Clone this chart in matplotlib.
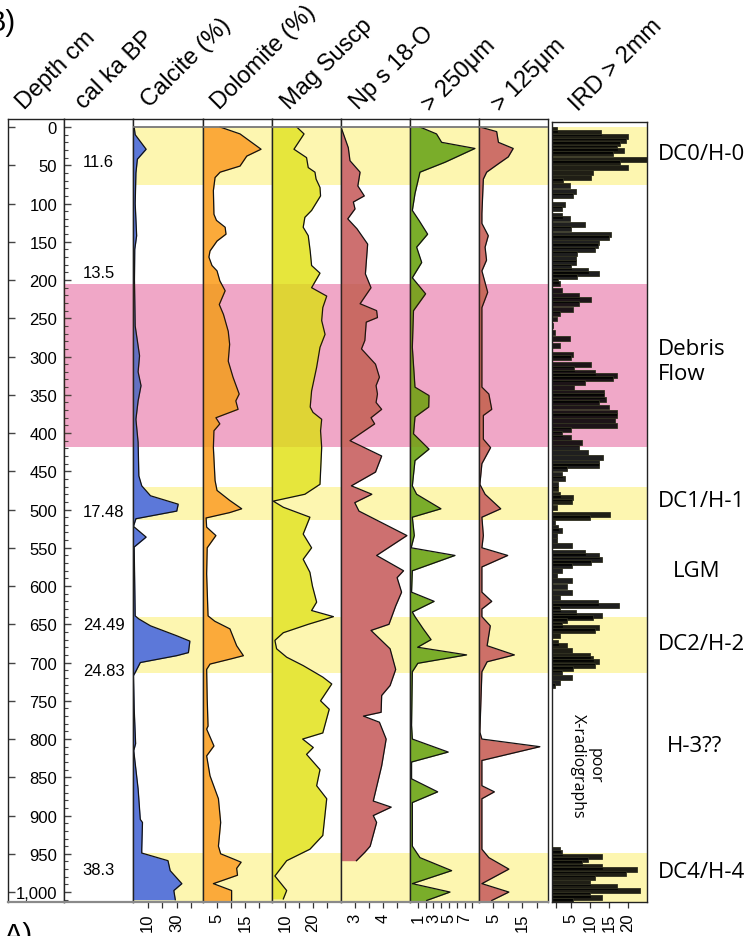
import matplotlib
matplotlib.use('Agg')
import matplotlib.pyplot as plt

W, H = 748, 937
DPI = 100
fig = plt.figure(figsize=(W / DPI, H / DPI), dpi=DPI)
fig.patch.set_facecolor('white')

SANS = ['Liberation Sans', 'DejaVu Sans']
LABF = ['Open Sans', 'DejaVu Sans']

# ---------------- data ----------------
depth_ticks = list(range(0, 1001, 50))
depth_labels = [f"{d:,}" for d in depth_ticks]

age_labels = ['11.6', '13.5', '17.48', '24.49', '24.83', '38.3']
age_depths = [45, 190, 503, 650, 711, 970]

calc_depth = [0, 10, 29, 42, 60, 100, 142, 160, 200, 260, 299, 320, 338, 358, 382, 412, 456, 469, 482, 493,
              502, 512, 522, 536, 549, 600, 639, 643, 652, 665, 672, 687, 691, 700, 713, 717, 760, 806, 815, 865,
              905, 909, 944, 949, 959, 972, 989, 998, 1010]
calc_val = [0.8, 1.5, 9, 3, 2, 1.5, 2.5, 1.2, 1, 1.5, 4.5, 3.5, 5.5, 3.5, 2, 3.5, 4, 6, 12, 31,
            30, 2, 0.3, 9, 0.8, 1.2, 1.5, 4, 12, 30, 39, 38, 30, 5, 1.5, 0.3, 0.8, 1.8, 0.5, 3.5,
            5, 6.5, 6, 6, 24, 25.5, 33.5, 28, 29]

dol_depth = [0, 9, 29, 38, 51, 59, 66, 83, 114, 122, 131, 140, 149, 162, 170, 181, 188, 201, 214, 232,
             245, 267, 284, 306, 327, 349, 358, 369, 380, 388, 397, 419, 462, 475, 488, 499, 504, 511, 523, 534,
             550, 584, 639, 646, 656, 678, 691, 695, 702, 709, 748, 783, 787, 809, 822, 848, 878, 909, 940, 950,
             957, 961, 969, 978, 989, 998, 1011]
dol_val = [6.1, 13.2, 20.7, 15.6, 13.2, 6.1, 4.3, 3.7, 3.9, 4.8, 7.9, 8.2, 5, 2.5, 2.1, 3.2, 5, 6, 7.9, 5.8,
           7.3, 9, 9.5, 9, 10.7, 12.9, 11.7, 12.5, 4.6, 6, 3.9, 3.7, 4.3, 5, 9.5, 13.8, 9.5, 1.1, 1.3, 4.6,
           1.5, 1.3, 1.8, 4.2, 9.6, 12, 14.4, 10.2, 2.5, 1.3, 1.5, 1.8, 1.3, 3.9, 1.3, 2.5, 5.5, 6.3, 5.5, 6.3,
           11, 13.6, 12, 12.3, 3.7, 10.2, 10.2]

mag_depth = [0, 9, 29, 40, 53, 59, 68, 79, 90, 109, 118, 131, 142, 162, 181, 191, 210, 221, 236, 253,
             271, 288, 314, 345, 366, 373, 382, 397, 419, 467, 480, 489, 497, 510, 532, 550, 565, 582, 600, 621,
             632, 640, 650, 661, 671, 682, 693, 704, 719, 728, 750, 761, 792, 800, 811, 820, 840, 861, 878, 926,
             944, 959, 979, 998, 1009]
mag_val = [14.2, 16.8, 13.2, 17.7, 18.3, 20.7, 21.1, 22.5, 22.7, 19.5, 17.1, 16.5, 18.3, 19, 19.5, 22.5, 19.5, 24.9, 23.5, 23.1,
           24.3, 22.5, 21.3, 19.5, 19, 20, 23.1, 22.7, 23.1, 22.5, 17.1, 5.8, 9.4, 18.9, 16.5, 19.5, 16.5, 18.9, 19.8, 21.3,
           19.5, 27.3, 18.3, 9.4, 6.4, 7, 10.6, 16.5, 23.5, 26.7, 22.7, 25.8, 23.5, 16.3, 20.1, 17.7, 22.5, 21.3, 24.9, 23.5,
           18.9, 10.6, 6.4, 10.6, 9.4]

np_depth = [0, 27, 44, 59, 77, 90, 98, 107, 120, 133, 153, 192, 210, 231, 240, 249, 255, 279, 290, 310,
            327, 338, 349, 360, 369, 380, 388, 410, 430, 451, 469, 480, 491, 502, 534, 560, 580, 589, 608, 626,
            650, 658, 682, 709, 730, 743, 765, 770, 778, 800, 835, 881, 889, 900, 909, 940, 948, 959]
np_val = [2.5, 2.76, 2.82, 3.18, 3.1, 3.33, 2.94, 3.0, 2.74, 3.07, 3.45, 3.37, 3.57, 3.18, 3.77, 3.8, 3.4, 3.35, 3.23, 3.73,
          3.87, 3.75, 3.8, 3.75, 3.95, 3.57, 3.7, 2.82, 3.95, 3.73, 2.87, 3.6, 2.99, 3.14, 4.85, 3.77, 4.73, 4.5, 4.66, 4.45,
          4.21, 3.57, 4.25, 4.45, 4.25, 3.95, 3.93, 3.3, 3.87, 4.11, 3.95, 3.65, 4.29, 3.65, 3.77, 3.54, 3.35, 3.05]

c250_depth = [0, 9, 20, 28, 46, 59, 87, 109, 122, 140, 157, 177, 197, 218, 240, 288, 340, 351, 366, 379,
              401, 421, 436, 469, 480, 499, 510, 534, 550, 560, 580, 608, 620, 634, 640, 656, 670, 680, 690, 701,
              712, 782, 800, 817, 830, 852, 869, 883, 940, 955, 972, 989, 1000, 1011]
c250_val = [1.28, 3.4, 4.06, 8.33, 4.5, 1.28, 0.64, 0.3, 1.15, 2.26, 0.85, 1.5, 0.3, 2.0, 0.45, 0.3, 0.64, 2.44, 2.4, 0.64,
            0.45, 2.44, 0.64, 0.3, 0.85, 3.97, 0.3, 0.55, 0.15, 5.77, 0.3, 0.2, 3.1, 0.3, 0.64, 1.7, 2.7, 0.98, 7.26, 1.0,
            0.3, 0.2, 0.3, 4.9, 0.2, 0.2, 3.55, 0.3, 0.3, 1.28, 5.34, 0.3, 5.13, 2.14]

c125_depth = [0, 6, 20, 28, 39, 48, 59, 68, 113, 126, 142, 157, 174, 188, 216, 236, 340, 349, 369, 377,
              408, 419, 440, 467, 480, 499, 510, 534, 550, 560, 575, 608, 620, 630, 640, 652, 678, 690, 699, 712,
              791, 800, 810, 828, 861, 869, 878, 944, 955, 970, 989, 1000, 1011]
c125_val = [0.34, 6.1, 6.7, 11.8, 10.1, 6.7, 2.64, 1.5, 1.0, 1.0, 3.2, 2.1, 2.6, 1.0, 3.0, 1.0, 1.0, 3.4, 4.4, 1.5,
            1.5, 4.0, 1.0, 0.3, 2.1, 7.5, 1.0, 1.5, 1.0, 9.9, 1.0, 1.0, 4.4, 1.0, 1.0, 3.9, 2.8, 12.2, 2.8, 1.0,
            0.3, 1.0, 21, 1.0, 1.0, 5.3, 1.0, 1.0, 3.4, 10.3, 1.0, 10.3, 4.4]

ird_depth = [3, 7, 13, 18, 22, 27, 31, 35, 42, 46, 53, 59, 66, 70, 77, 84, 90, 101, 107, 116,
             120, 127, 133, 140, 144, 151, 155, 160, 166, 172, 177, 183, 188, 192, 196, 201, 205, 214, 220, 225,
             231, 238, 244, 251, 260, 268, 277, 286, 297, 301, 310, 316, 321, 325, 329, 334, 340, 347, 351, 356,
             360, 366, 373, 377, 384, 390, 395, 401, 406, 412, 419, 425, 432, 438, 443, 447, 454, 460, 467, 473,
             480, 484, 490, 497, 506, 510, 517, 523, 528, 534, 541, 547, 556, 560, 565, 569, 573, 580, 586, 593,
             600, 608, 615, 621, 625, 630, 634, 639, 641, 645, 650, 654, 658, 665, 674, 678, 684, 691, 695, 699,
             704, 708, 713, 719, 726, 730, 944, 948, 953, 957, 961, 966, 970, 976, 981, 987, 993, 998, 1003, 1007,
             1011]
ird_val = [1.2, 13, 20, 19.6, 17.8, 17, 19, 16, 25, 17.8, 20, 10.7, 10.3, 3, 4.7, 6.4, 5.5, 3.5, 2.6, 2.6,
           4.7, 8.6, 5, 15.4, 15, 12.3, 12, 11.4, 6.6, 6.2, 6.2, 5, 9.4, 12.3, 6.6, 1.6, 2, 2.6, 7, 10.3,
           7, 5.5, 2, 1.2, 0.3, 0.7, 4.7, 2, 5.5, 5, 10.3, 5.8, 11.4, 17, 16, 8.6, 5.8, 13.8, 13.8, 14.2,
           12.3, 15, 17, 17, 16.6, 17, 5, 2.6, 5, 7.9, 7, 9.4, 13.3, 12.3, 12.3, 4, 2.6, 3.5, 1.6, 1.6,
           2, 5.5, 5.2, 1.2, 15.3, 10, 0.8, 1.6, 2.6, 1.2, 1.2, 5.2, 8.6, 12.3, 13.2, 10.3, 5.2, 2.6, 1.2, 5.2,
           4, 5.2, 2, 12, 17.5, 2, 6.4, 13.2, 10.7, 4, 2.6, 12.3, 11.4, 2, 1.6, 4, 5.2, 10, 10.7, 12.3,
           11.4, 5.5, 2.6, 5.2, 2, 0.8, 2, 2.6, 13.2, 9.4, 7.9, 13.2, 22.3, 19.6, 11.4, 10, 17, 23.2, 10, 13.2,
           5.5]

yellow_bands = [(0, 76), (470, 514), (640, 714), (949, 1013)]
pink_band = (205, 418)

headers = ['Depth cm', 'cal ka BP', 'Calcite (%)', 'Dolomite (%)', 'Mag Suscp', 'Np s 18-O',
           '> 250μm', '> 125μm', 'IRD > 2mm']
zone_labels = ['DC0/H-0', 'Debris\nFlow', 'DC1/H-1', 'LGM', 'DC2/H-2', 'H-3??', 'DC4/H-4']

# ---------------- styling ----------------
YEL = '#fdf6b0'
PINK_BASE = '#f8b4de'
PINK_OVER = '#aa3c00'
PINK_FINAL = '#f0a8c8'
D_TOP, D_BOT = -10.5, 1013


def px_ax(x0, x1, y0=120, y1=903):
    return fig.add_axes([x0 / W, 1 - y1 / H, (x1 - x0) / W, (y1 - y0) / H])


def ftext(x, y, s, **kw):
    return fig.text(x / W, 1 - y / H, s, **kw)


def style_spines(ax, bottom_color='#8a8a8a'):
    for s in ['top', 'left', 'right']:
        ax.spines[s].set_color('#222222')
        ax.spines[s].set_linewidth(1.0)
    ax.spines['bottom'].set_color(bottom_color)
    ax.spines['bottom'].set_linewidth(1.6)


# depth axis
axd = px_ax(8, 64)
axd.set_ylim(D_BOT, D_TOP)
axd.set_xlim(0, 1)
axd.set_xticks([])
axd.set_yticks(depth_ticks)
axd.set_yticklabels(depth_labels, fontsize=12, family=SANS)
axd.tick_params(axis='y', direction='in', length=5, width=1, pad=-35.3, color='#444444')
style_spines(axd)

# cal ka BP axis
axc = px_ax(64, 133)
axc.set_ylim(D_BOT, D_TOP)
axc.set_xlim(0, 1)
axc.set_xticks([])
axc.set_yticks(depth_ticks)
axc.set_yticks(list(range(0, 1011, 10)), minor=True)
axc.tick_params(axis='y', which='major', direction='in', length=5, width=1, labelleft=False, color='#444444')
axc.tick_params(axis='y', which='minor', direction='in', length=3, width=0.8, color='#444444')
axc.axhspan(*pink_band, color=PINK_BASE, lw=0, zorder=0)
axc.axhspan(*pink_band, color=PINK_OVER, alpha=0.1, lw=0, zorder=3)
for lab, d in zip(age_labels, age_depths):
    axc.text(0.27, d, lab, fontsize=12, family=SANS, ha='left', va='center', transform=axc.get_yaxis_transform())
style_spines(axc)

panels = [
    (133, 203, (0, 48), calc_depth, calc_val, '#5c78d9', 0, [10, 20, 30, 40], ['10', '', '30', '']),
    (203, 272, (0, 24.6), dol_depth, dol_val, '#fbaa3a', 0, [5, 10, 15, 20], ['5', '', '15', '']),
    (272, 341, (5.36, 30), mag_depth, mag_val, '#e6e63c', 5.36, [10, 15, 20, 25], ['10', '', '20', '']),
    (341, 410, (2.5, 4.96), np_depth, np_val, '#cd7070', 2.5, [3, 3.5, 4, 4.5], ['3', '', '4', '']),
    (410, 479, (0, 8.85), c250_depth, c250_val, '#7aad2a', 0, [1, 2, 3, 4, 5, 6, 7, 8],
     ['1', '', '3', '', '5', '', '7', '']),
    (479, 548, (0, 23.8), c125_depth, c125_val, '#cd7068', 0, [5, 10, 15, 20], ['5', '', '15', '']),
]

for x0, x1, xl, dep, val, col, base, ticks, tlabs in panels:
    ax = px_ax(x0, x1)
    ax.set_ylim(D_BOT, D_TOP)
    ax.set_xlim(*xl)
    for a, b in yellow_bands:
        ax.axhspan(a, b, color=YEL, lw=0, zorder=0)
    ax.axhspan(*pink_band, color=PINK_BASE, lw=0, zorder=0)
    ax.fill_betweenx(dep, base, val, color=col, lw=0, zorder=1)
    ax.plot(val, dep, color='#111111', lw=0.9, zorder=2)
    ax.axhspan(*pink_band, color=PINK_OVER, alpha=0.1, lw=0, zorder=3)
    ax.axhline(0, color='#777777', lw=1.3, zorder=4)
    ax.set_yticks([])
    ax.set_xticks(ticks)
    ax.set_xticklabels(tlabs, rotation=90, fontsize=12, family=SANS)
    ax.tick_params(axis='x', direction='out', length=4.5, width=0.9, pad=3, color='#333333')
    style_spines(ax)

# IRD panel
axi = px_ax(552, 647, 123, 903)
axi.set_ylim(D_BOT, -6.5)
axi.set_xlim(0, 25)
for a, b in yellow_bands:
    axi.axhspan(a, b, color=YEL, lw=0, zorder=0)
axi.axhspan(*pink_band, color=PINK_FINAL, lw=0, zorder=0)
axi.barh(ird_depth, ird_val, height=6.5, left=0, color='#000000', alpha=0.88,
         edgecolor='#333322', linewidth=0.7, zorder=2)
axi.set_yticks([])
axi.set_xticks([1, 5, 10, 15, 20])
axi.set_xticklabels(['', '5', '10', '15', '20'], rotation=90, fontsize=12, family=SANS)
axi.tick_params(axis='x', direction='out', length=4.5, width=0.9, pad=3, color='#333333')
for s in axi.spines.values():
    s.set_color('#222222')
    s.set_linewidth(1.0)
axi.text(0.36, 834, 'poor\nX-radiographs', rotation=-90, fontsize=11.5, family=LABF,
         ha='center', va='center', linespacing=1.0, transform=axi.get_yaxis_transform())

# headers
header_pos = [(24, 110), (84, 110), (149, 108), (219, 110), (289, 110), (358, 110), (430, 112), (500, 112), (578, 112)]
for s, (x, y) in zip(headers, header_pos):
    ftext(x, y, s, rotation=45, rotation_mode='anchor', ha='left', va='baseline',
          fontsize=17, family=SANS)

# right zone labels
zone_pos = [(658, 154), (658, 362), (658, 502), (673, 572), (658, 645), (667, 747), (658, 872)]
for s, (x, y) in zip(zone_labels, zone_pos):
    ftext(x, y, s, ha='left', va='center', fontsize=16, family=LABF, linespacing=1.2)

# panel letters (cut at edges, as in the source figure)
ftext(16, 31, 'B)', ha='right', va='baseline', fontsize=21, family=SANS)
ftext(33, 922, 'A)', ha='right', va='top', fontsize=21, family=SANS)

fig.savefig('out.png', dpi=DPI)
